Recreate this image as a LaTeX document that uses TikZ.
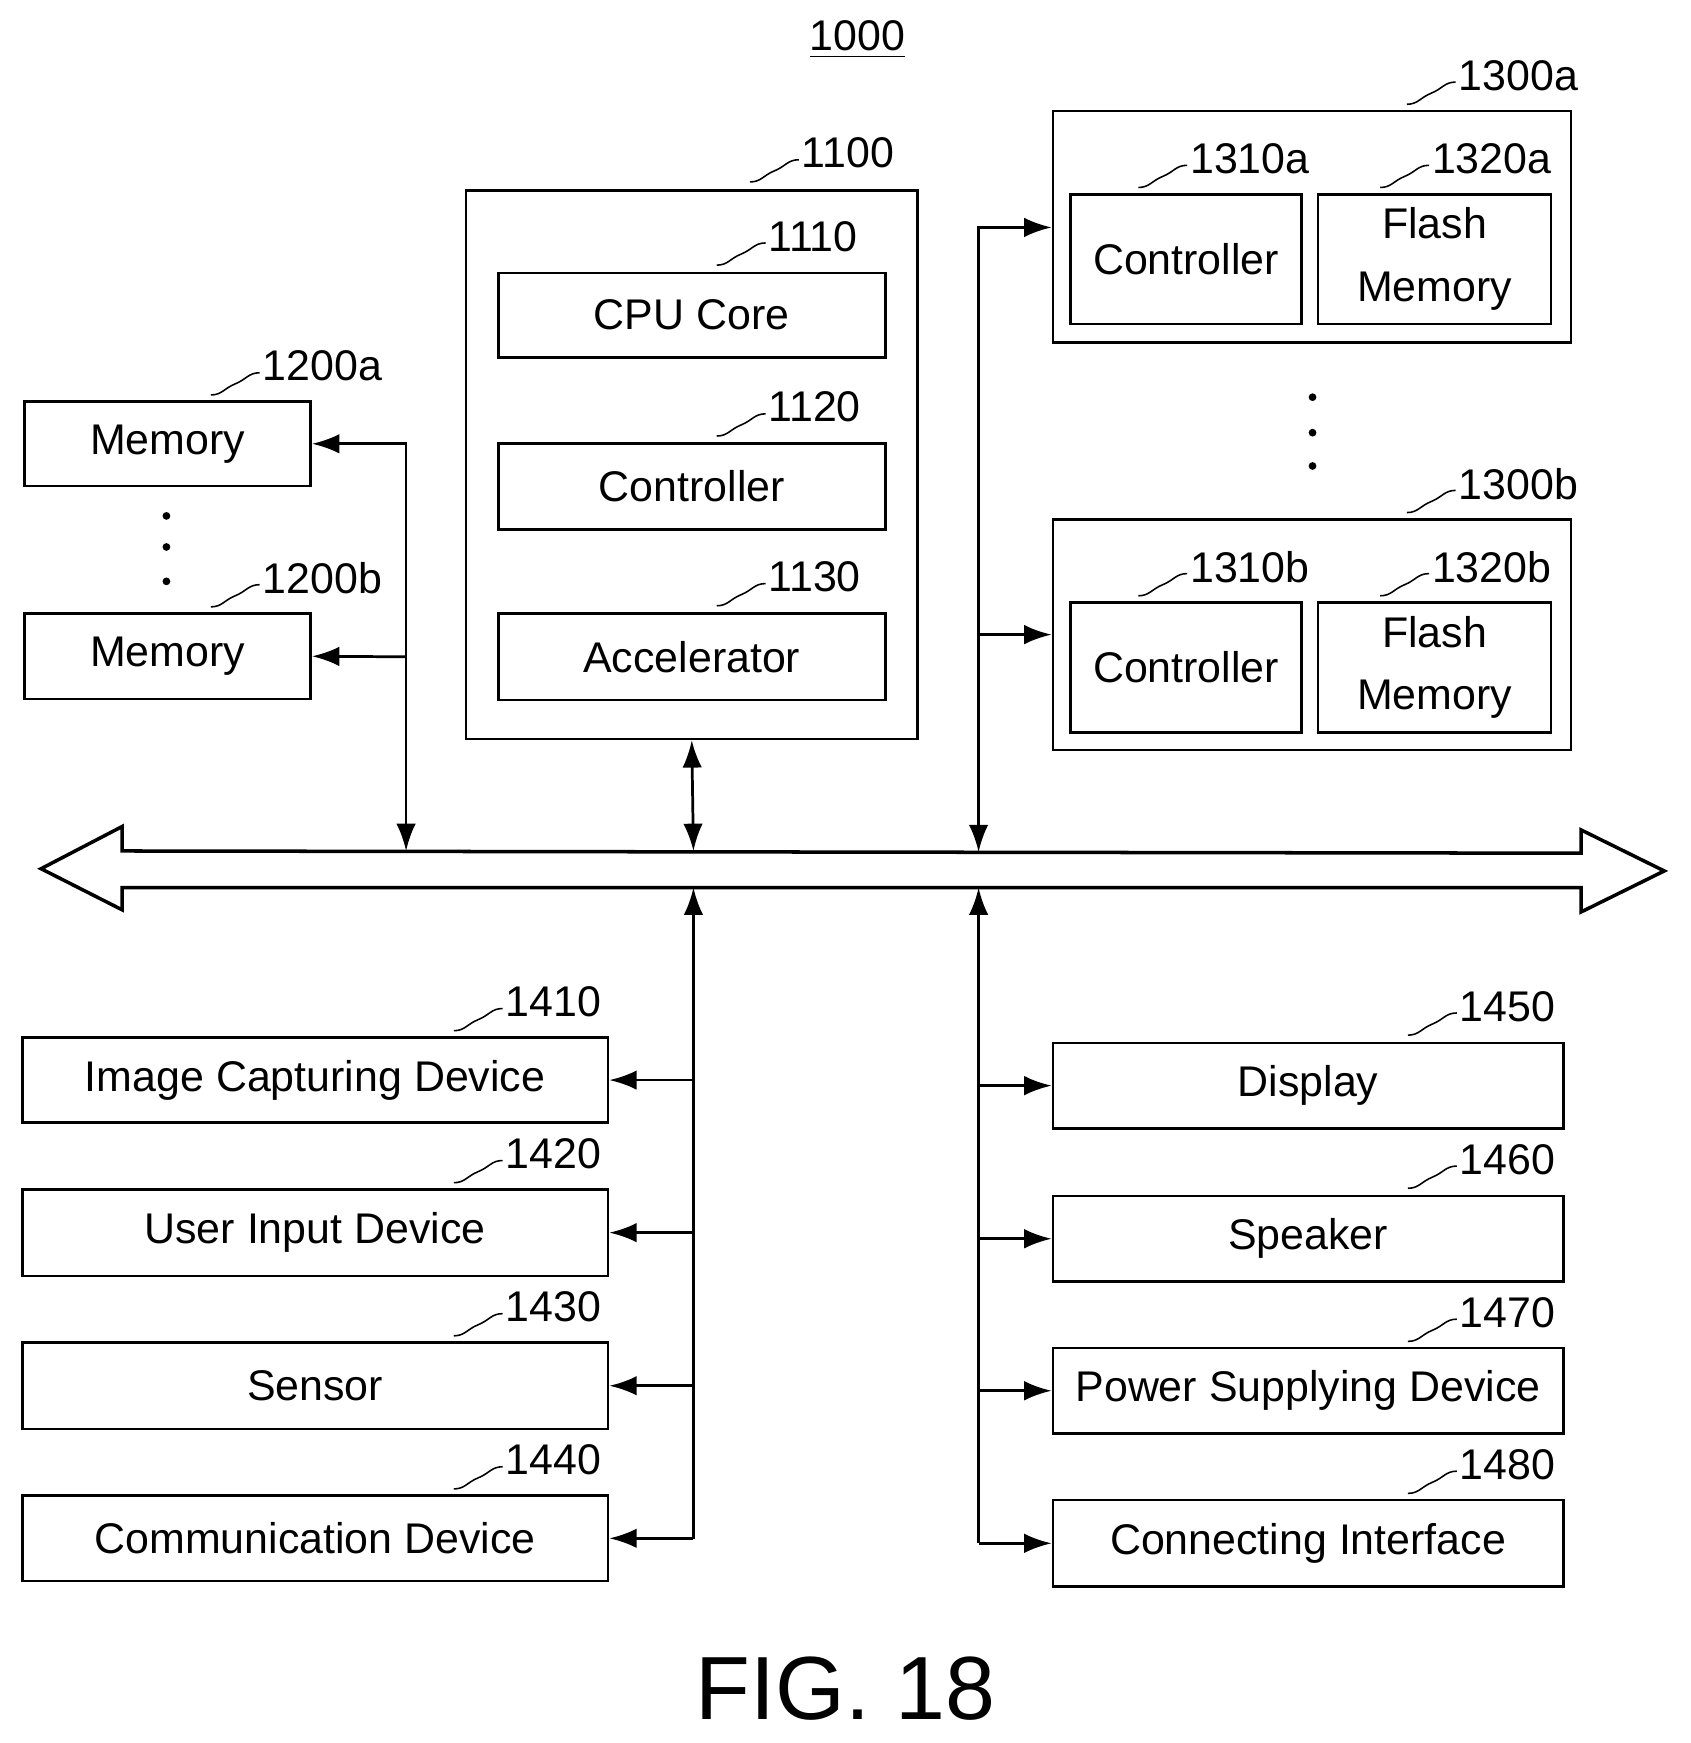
\documentclass[tikz,border=0pt]{standalone}
\usepackage{fontspec}
\setmainfont{Liberation Sans}
\usetikzlibrary{arrows.meta}
\newcommand\bx[6]{\node[box,minimum width={(#4-#2)*0.01cm},minimum height={(#5-#3)*0.01cm}] (#1) at ({(#2+#4)/2},{(#3+#5)/2}) {#6};}
\newcommand\refl[4]{\node[lab,anchor=west] (#1) at (#2,#3) {#4};\draw[thin] (#1.west) ++(-2,6) .. controls +(-10,0) and +(10,-4) .. ++(-22,10) .. controls +(-10,4) and +(10,0) .. ++(-22,10);}
\begin{document}
\begin{tikzpicture}[x=0.01cm,y=-0.01cm,
 box/.style={draw,line width=0.7pt,inner sep=1pt,align=center,font=\fontsize{11}{16}\selectfont},
 lab/.style={inner sep=0pt,font=\fontsize{11}{13}\selectfont},
 arr/.style={line width=0.7pt,-{Latex[length=7pt,width=5pt]}},
 darr/.style={line width=0.7pt,{Latex[length=7pt,width=5pt]}-{Latex[length=7pt,width=5pt]}}]
\useasboundingbox (0,0) rectangle (1524,1571);
\node[lab] (t) at (773,36) {\underline{1000}};
% CPU
\bx{c}{420}{172}{827}{666}{}
\refl{lc}{722}{138}{1100}
\bx{c1}{449}{246}{798}{322}{CPU Core}
\refl{lc1}{692}{213}{1110}
\bx{c2}{449}{400}{798}{477}{Controller}
\refl{lc2}{692}{367}{1120}
\bx{c3}{449}{553}{798}{631}{Accelerator}
\refl{lc3}{692}{520}{1130}
% memories
\bx{m1}{22}{362}{280}{438}{Memory}
\refl{lm1}{236}{330}{1200a}
\bx{m2}{22}{553}{280}{630}{Memory}
\refl{lm2}{236}{521}{1200b}
\foreach \y in {465,493,524}{\fill (150,\y) circle (3.5);}
% storage
\bx{s1}{949}{100}{1416}{309}{}
\refl{ls1}{1314}{68}{1300a}
\bx{s1c}{965}{175}{1173}{292}{Controller}
\refl{ls1c}{1072}{143}{1310a}
\bx{s1f}{1188}{175}{1398}{292}{Flash\\Memory}
\refl{ls1f}{1290}{143}{1320a}
\foreach \y in {358,390,420}{\fill (1183,\y) circle (3.5);}
\bx{s2}{949}{468}{1416}{676}{}
\refl{ls2}{1314}{436}{1300b}
\bx{s2c}{965}{543}{1173}{660}{Controller}
\refl{ls2c}{1072}{511}{1310b}
\bx{s2f}{1188}{543}{1398}{660}{Flash\\Memory}
\refl{ls2f}{1290}{511}{1320b}
% bus
\draw[line width=0.9pt,fill=white] (37,783) -- (110,745) -- (110,767) -- (1425,769) -- (1425,748) -- (1500,785) -- (1425,822) -- (1425,800) -- (110,800) -- (110,820) -- cycle;
\coordinate (bm) at (366,767);
\coordinate (bc) at (625,767);
\coordinate (bs) at (882,768);
\coordinate (bl) at (625,800);
\coordinate (br) at (882,800);
\coordinate (jm) at (366,592);
\coordinate (js) at (882,572);
\coordinate (jt) at (882,205);
\draw[darr] (m1.east) -| (bm);
\draw[arr] (jm) -- (m2.east);
\draw[darr] (c.south) -- (bc);
\draw[darr] (s1.west |- jt) -- (jt) -- (bs);
\draw[arr] (js) -- (s2.west |- js);
% bottom left
\bx{a1}{20}{935}{548}{1012}{Image Capturing Device}
\refl{la1}{455}{903}{1410}
\bx{a2}{20}{1072}{548}{1150}{User Input Device}
\refl{la2}{455}{1040}{1420}
\bx{a3}{20}{1210}{548}{1288}{Sensor}
\refl{la3}{455}{1178}{1430}
\bx{a4}{20}{1348}{548}{1425}{Communication Device}
\refl{la4}{455}{1316}{1440}
\draw[arr] (625,1387) -- (bl);
\foreach \n in {a1,a2,a3,a4}{\draw[arr] (625,0 |- \n.east) -- (\n.east);}
% bottom right
\bx{r1}{949}{940}{1409}{1017}{Display}
\refl{lr1}{1315}{907}{1450}
\bx{r2}{949}{1078}{1409}{1155}{Speaker}
\refl{lr2}{1315}{1045}{1460}
\bx{r3}{949}{1215}{1409}{1292}{Power Supplying Device}
\refl{lr3}{1315}{1183}{1470}
\bx{r4}{949}{1352}{1409}{1430}{Connecting Interface}
\refl{lr4}{1315}{1320}{1480}
\draw[arr] (882,1391) -- (br);
\foreach \n in {r1,r2,r3,r4}{\draw[arr] (882,0 |- \n.west) -- (\n.west);}
\node[font=\fontsize{23}{28}\selectfont] (fig) at (762,1522) {FIG. 18};
\end{tikzpicture}
\end{document}
